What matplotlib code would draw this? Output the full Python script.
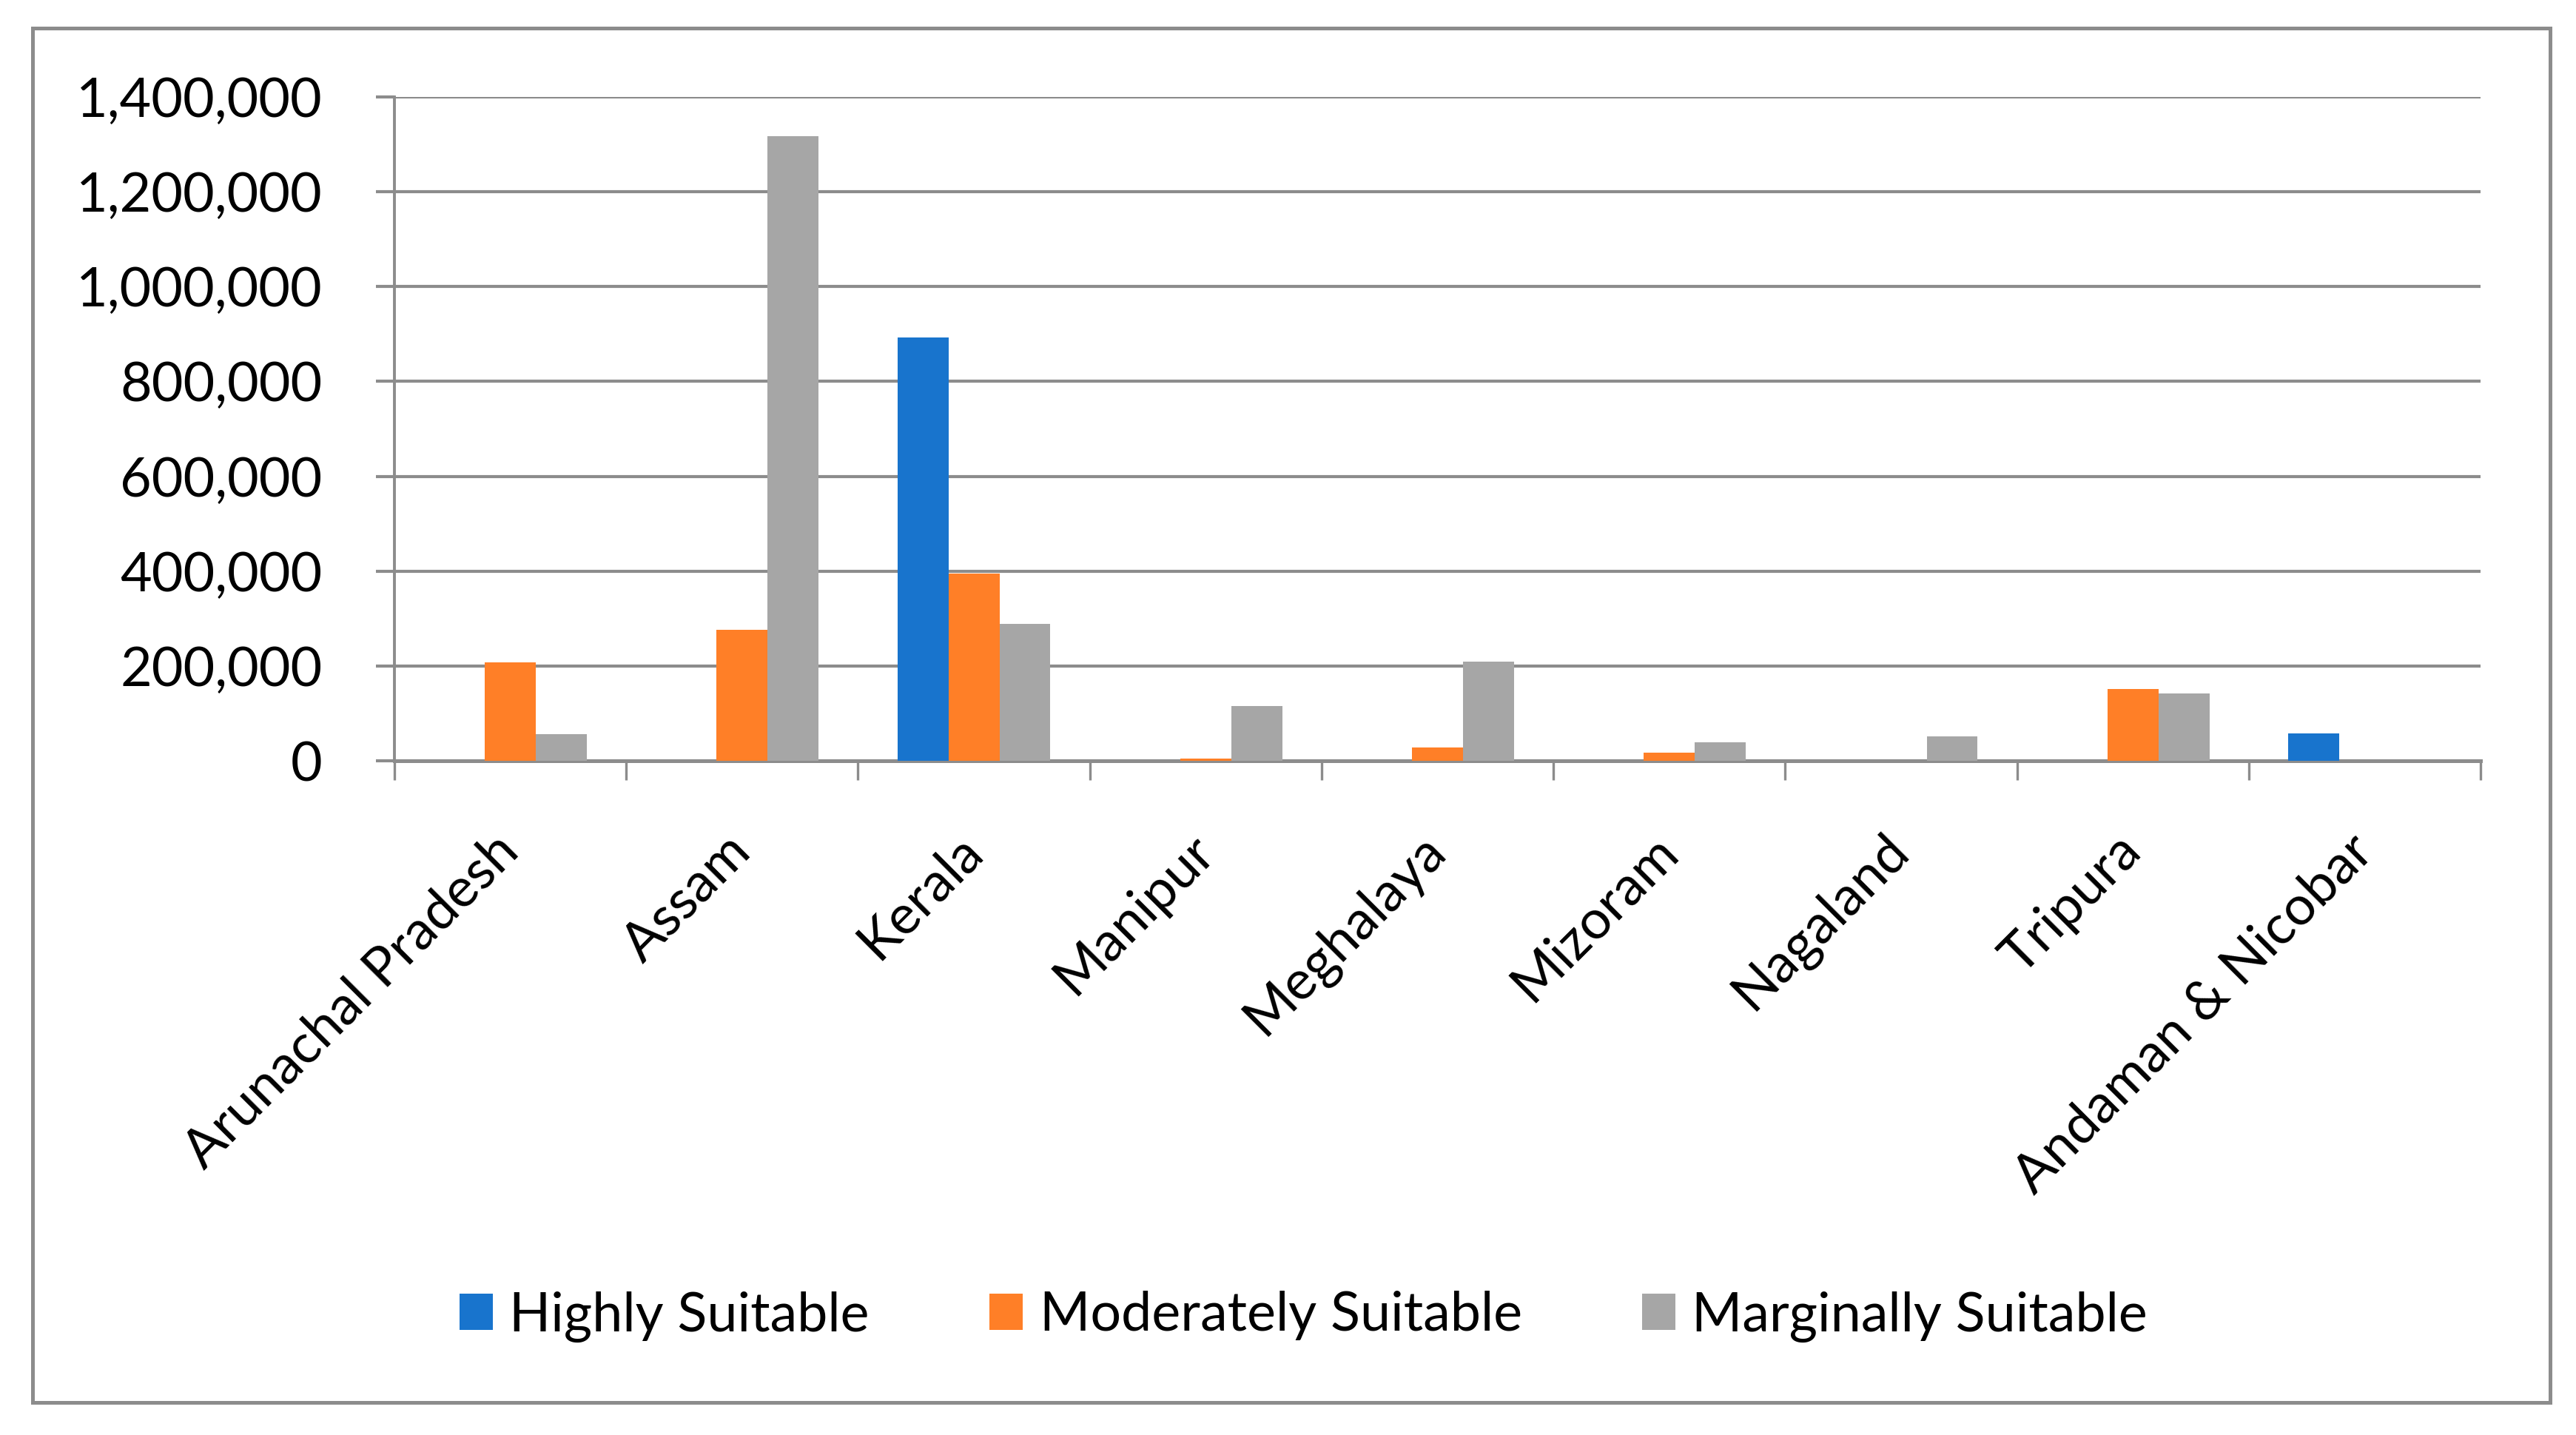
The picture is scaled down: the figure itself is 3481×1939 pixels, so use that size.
import matplotlib

matplotlib.use("Agg")
import matplotlib.pyplot as plt
import numpy as np
from matplotlib.patches import Rectangle
from matplotlib.ticker import FuncFormatter

states = [
    "Arunachal Pradesh",
    "Assam",
    "Kerala",
    "Manipur",
    "Meghalaya",
    "Mizoram",
    "Nagaland",
    "Tripura",
    "Andaman & Nicobar",
]
highly = [0, 0, 893000, 0, 0, 0, 0, 0, 58000]
moderately = [207000, 276000, 395000, 5000, 28000, 17000, 0, 152000, 0]
marginally = [55500, 1318000, 288500, 115000, 210000, 39000, 52000, 141500, 0]

series_names = ["Highly Suitable", "Moderately Suitable", "Marginally Suitable"]
colors = ["#1874CD", "#FF7F27", "#A6A6A6"]
GRID = "#8C8C8C"
FS = 26.5

plt.rcParams["font.family"] = ["Lato", "DejaVu Sans"]

fig = plt.figure(figsize=(17.405, 9.695), dpi=200)
ax = fig.add_axes([0.1531, 0.4698, 0.8099, 0.4626])

x = np.arange(len(states))
width = 0.22
for i, (vals, name, col) in enumerate(zip([highly, moderately, marginally], series_names, colors)):
    ax.bar(x + (i - 1) * width, vals, width, color=col, label=name, zorder=3)

ax.set_xlim(-0.5, len(states) - 0.5)
ax.set_ylim(0, 1400000)
ax.set_yticks(np.arange(0, 1400001, 200000))
ax.yaxis.set_major_formatter(FuncFormatter(lambda v, p: f"{int(v):,}"))
ax.grid(axis="y", color=GRID, linewidth=1.5, zorder=0)

# category boundaries carry the tick marks, centres carry the labels
ax.set_xticks(np.arange(-0.5, len(states)), labels=[""] * (len(states) + 1))
ax.set_xticks(x, labels=states, minor=True)
ax.tick_params(axis="x", which="major", length=9.5, width=1.2, color=GRID, direction="out")
ax.tick_params(axis="x", which="minor", length=0, pad=40)
ax.tick_params(axis="y", length=9, width=1.5, color=GRID, pad=26, labelsize=FS)
for lab in ax.get_xticklabels(minor=True):
    lab.set_rotation(45)
    lab.set_rotation_mode("anchor")
    lab.set_ha("right")
    lab.set_va("center")
    lab.set_fontsize(FS)

for side in ["top", "right"]:
    ax.spines[side].set_visible(False)
for side in ["left", "bottom"]:
    ax.spines[side].set_color(GRID)
ax.spines["left"].set_linewidth(1.4)
ax.spines["bottom"].set_linewidth(1.8)

fig.legend(
    loc="center",
    bbox_to_anchor=(0.506, 0.0825),
    ncol=3,
    frameon=False,
    fontsize=FS,
    handlelength=0.62,
    handleheight=0.64,
    handletextpad=0.3,
    columnspacing=2.2,
)

fig.patches.append(
    Rectangle(
        (44 / 3481, 1 - 1895 / 1939),
        (3446 - 44) / 3481,
        (1895 - 38) / 1939,
        transform=fig.transFigure,
        fill=False,
        edgecolor=GRID,
        linewidth=1.8,
    )
)

fig.savefig("out.png", dpi=200)
